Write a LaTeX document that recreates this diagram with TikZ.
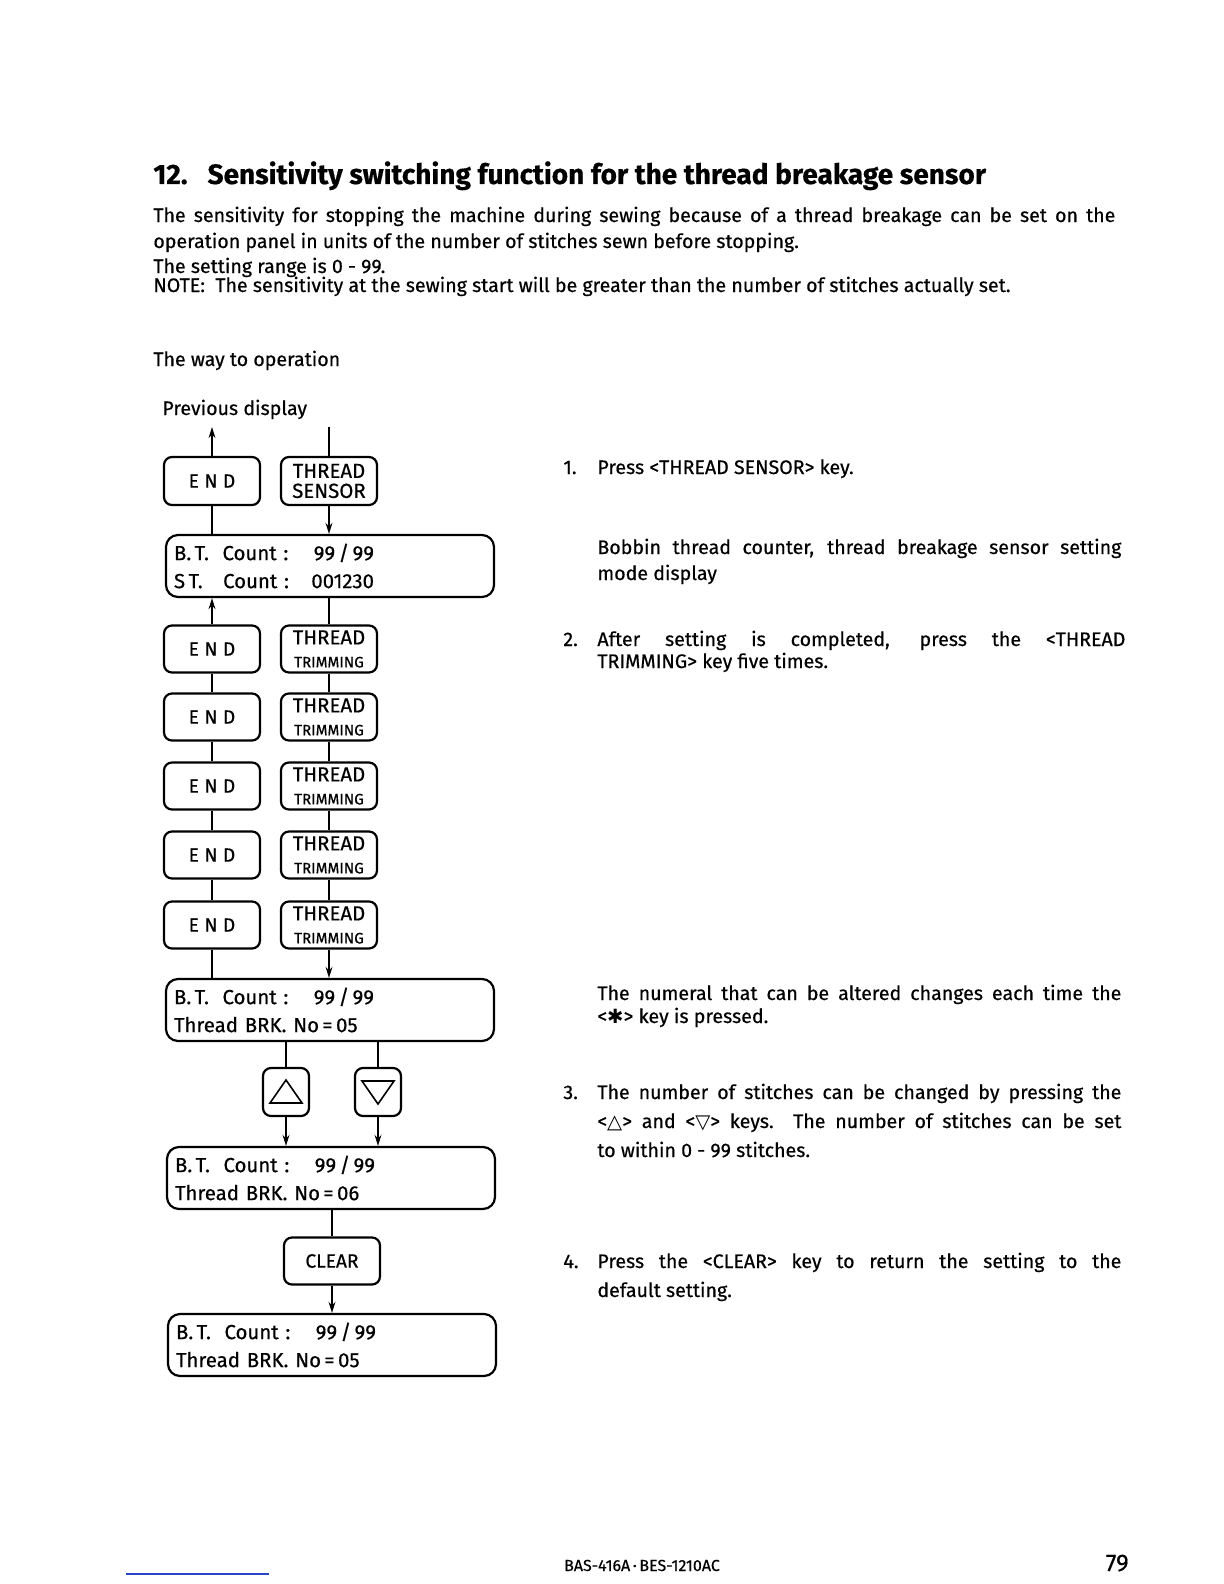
\documentclass[tikz,border=0pt]{standalone}
\usepackage{fontspec}
\setmainfont{Fira Sans}[FakeBold=0.5]
\newfontfamily\dejavu{DejaVu Sans}
\usetikzlibrary{arrows.meta}
\definecolor{scanblue}{RGB}{40,70,200}
\newcommand{\stopkey}{E\hspace{2.8pt}N\hspace{2.8pt}D}
\newcommand{\thr}[1]{{\fontsize{10.2}{10}\selectfont THREAD}\\[-0.5pt]{\fontsize{7.6}{9}\selectfont #1}}
\newcommand{\btline}[1]{\makebox[100pt][l]{B.\,T.\ \ Count :\hfill #1}}
\newcommand{\jline}[2][262pt]{\makebox[#1][s]{#2}}

\begin{document}
\begin{tikzpicture}[x=0.5pt,y=-0.5pt,
  key/.style={draw,line width=1.1pt,rounded corners=4pt,minimum width=48pt,minimum height=23.5pt,inner sep=0pt,align=center},
  endfont/.style={font=\fontsize{9.5}{10}\selectfont},
  lcd/.style={draw,line width=1.1pt,rounded corners=6pt,minimum width=164pt,minimum height=31pt,inner xsep=4pt,inner ysep=0pt,text width=156pt,align=left,font=\fontsize{10.2}{14}\selectfont},
  link/.style={line width=0.9pt},
  flow/.style={line width=0.9pt,-{Stealth[length=5.5pt,width=3.4pt]}},
  body/.style={anchor=base west,inner sep=0pt,font=\fontsize{9.8}{11}\selectfont}]
\fill[white] (0,0) rectangle (1224,1584);
\useasboundingbox (0,0) rectangle (1224,1584);
\node[anchor=base west,inner sep=0pt,font=\bfseries\fontsize{14}{16}\selectfont] (title) at (153,184) {12.\hspace{10pt}Sensitivity switching function for the thread breakage sensor};
\node[body] (intro1) at (153,222) {\jline[481pt]{The sensitivity for stopping the machine during sewing because of a thread breakage can be set on the}};
\node[body] (intro2) at (153,248) {operation panel in units of the number of stitches sewn before stopping.};
\node[body] (intro3) at (153,273) {The setting range is 0 - 99.};
\node[body] (intro4) at (153,292) {NOTE:\ \ The sensitivity at the sewing start will be greater than the number of stitches actually set.};
\node[body] (way) at (153,366) {The way to operation};
\node[body] (prev) at (162,415) {Previous display};
\coordinate (prevL) at (212,427);
\coordinate (prevR) at (329,427);
\node[key,endfont,minimum height=24pt] (e1) at (212,481) {\stopkey};
\node[key,font=\fontsize{10.2}{10}\selectfont,minimum height=24pt] (ts) at (329,481) {THREAD\\SENSOR};
\node[lcd] (d1) at (330,566) {\btline{99\,/\,99}\\\makebox[100pt][l]{S\,T.\ \ \ Count :\hfill 001230}};
\foreach \i/\y in {2/649,3/717,4/786,5/855,6/925} {
  \node[key,endfont] (e\i) at (212,\y) {\stopkey};
  \node[key] (t\i) at (329,\y) {\thr{TRIMMING}};
}
\node[lcd] (d2) at (330,1010) {\btline{99\,/\,99}\\Thread BRK. No\,=\,05};
\node[key,minimum width=23pt,minimum height=24pt] (up) at (286,1092) {};
\node[key,minimum width=23pt,minimum height=24pt] (dn) at (378,1092) {};
\draw[line width=0.8pt] ([shift={(-16,11)}]up.center) -- ([shift={(16,11)}]up.center) -- ([shift={(0,-12)}]up.center) -- cycle;
\draw[line width=0.8pt] ([shift={(-16,-11)}]dn.center) -- ([shift={(16,-11)}]dn.center) -- ([shift={(0,12)}]dn.center) -- cycle;
\node[lcd] (d3) at (331,1178) {\btline{99\,/\,99}\\Thread BRK. No\,=\,06};
\node[key,font=\fontsize{9.6}{10}\selectfont] (clr) at (332,1261) {CLEAR};
\node[lcd] (d4) at (332,1345) {\btline{99\,/\,99}\\Thread BRK. No\,=\,05};
\draw[flow] (e1.north) -- (prevL);
\draw[link] (prevR) -- (ts.north);
\draw[link] (d1.north -| e1) -- (e1.south);
\draw[flow] (ts.south) -- (d1.north -| ts);
\draw[flow] (e2.north) -- (d1.south -| e2);
\draw[link] (d1.south -| t2) -- (t2.north);
\foreach \i/\j in {2/3,3/4,4/5,5/6} {
  \draw[link] (e\i.south) -- (e\j.north);
  \draw[link] (t\i.south) -- (t\j.north);
}
\draw[link] (e6.south) -- (d2.north -| e6);
\draw[flow] (t6.south) -- (d2.north -| t6);
\draw[link] (d2.south -| up) -- (up.north);
\draw[link] (d2.south -| dn) -- (dn.north);
\draw[flow] (up.south) -- (d3.north -| up);
\draw[flow] (dn.south) -- (d3.north -| dn);
\draw[link] (d3.south -| clr) -- (clr.north);
\draw[flow] (clr.south) -- (d4.north -| clr);
\node[body] (n1) at (563,474) {1.};
\node[body] (s1) at (597,474) {Press <THREAD SENSOR> key.};
\node[body] (b1) at (597,554) {\jline{Bobbin thread counter, thread breakage sensor setting}};
\node[body] (b2) at (597,580) {mode display};
\node[body] (n2) at (563,646) {2.};
\node[body] (s2a) at (597,646) {\jline[264pt]{After setting is completed, press the <THREAD}};
\node[body] (s2b) at (597,668) {TRIMMING> key five times.};
\node[body] (a1) at (597,1000) {\jline{The numeral that can be altered changes each time the}};
\node[body] (a2) at (597,1023) {<{\dejavu ✱}> key is pressed.};
\node[body] (n3) at (563,1099) {3.};
\node[body] (s3a) at (597,1099) {\jline{The number of stitches can be changed by pressing the}};
\node[body] (s3b) at (597,1128) {\jline{<{\dejavu △}> and <{\dejavu ▽}> keys.\ \ The number of stitches can be set}};
\node[body] (s3c) at (597,1157) {to within 0 - 99 stitches.};
\node[body] (n4) at (563,1268) {4.};
\node[body] (s4a) at (597,1268) {\jline{Press the <CLEAR> key to return the setting to the}};
\node[body] (s4b) at (597,1297) {default setting.};
\node[anchor=base,inner sep=0pt,font=\fontsize{8}{9}\selectfont] (code) at (642,1571) {BAS-416A\,·\,BES-1210AC};
\node[anchor=base east,inner sep=0pt,font=\fontsize{12}{14}\selectfont] (page) at (1129,1571) {79};
\draw[scanblue,line width=0.8pt] (126,1574) -- (269,1574);
\end{tikzpicture}
\end{document}
